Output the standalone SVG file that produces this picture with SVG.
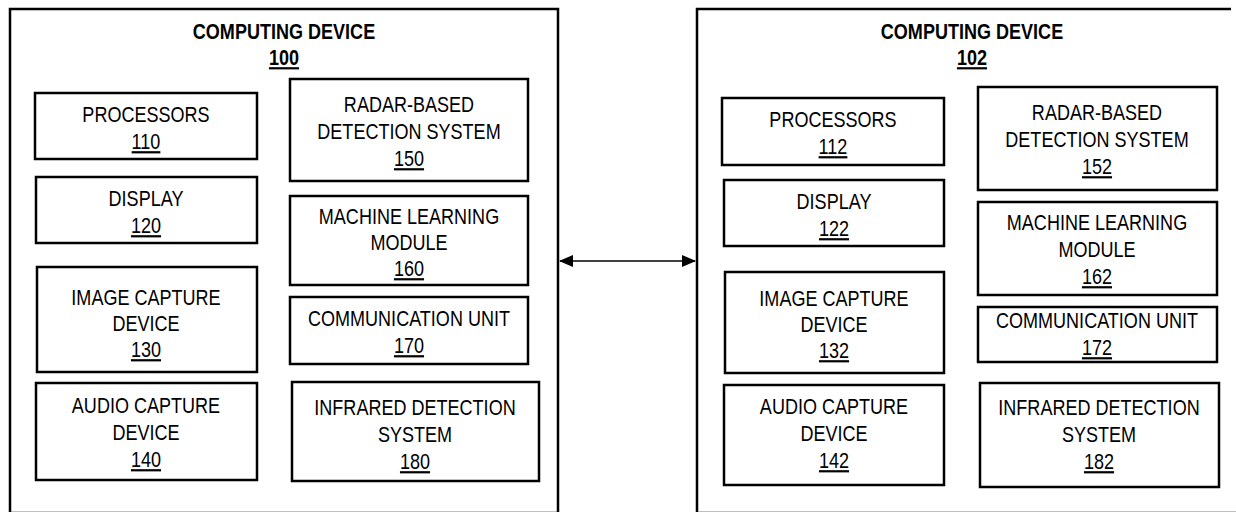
<svg xmlns="http://www.w3.org/2000/svg" width="1236" height="512" viewBox="0 0 1236 512">
  <style>
    .frame { fill: #fff; stroke: #000; stroke-width: 2.5; }
    .box { fill: #fff; stroke: #000; stroke-width: 2.5; }
    .t { font-family: "Liberation Sans", Arial, sans-serif; font-size: 22px; fill: #000; text-anchor: middle; }
    .title { font-weight: bold; }
    .num { text-decoration: underline; }
    .link { stroke: #000; stroke-width: 1.6; fill: none; }
  </style>
  <defs>
    <marker id="ah" viewBox="0 0 14 12" refX="13" refY="6" markerWidth="14" markerHeight="12" markerUnits="userSpaceOnUse" orient="auto-start-reverse">
      <path d="M0,0 L14,6 L0,12 Z" fill="#000"/>
    </marker>
  </defs>
  <rect width="1236" height="512" fill="#fff"/>

  <!-- Labels use a narrow face: each text is squeezed to 82% width about its own x -->

  <!-- Computing device 100 -->
  <g id="device-100">
    <rect class="frame" x="10" y="9" width="548" height="504"/>
    <g transform="matrix(0.82,0,0,1,51.12,0)">
      <text class="t title" x="284" y="39">COMPUTING DEVICE</text>
      <text class="t title num" x="284" y="65">100</text>
    </g>
  </g>
  <g id="processors-110">
    <rect class="box" x="35" y="93" width="222" height="66"/>
    <g transform="matrix(0.82,0,0,1,26.28,0)">
      <text class="t" x="146" y="122">PROCESSORS</text>
      <text class="t num" x="146" y="149">110</text>
    </g>
  </g>
  <g id="display-120">
    <rect class="box" x="36" y="177" width="221" height="66"/>
    <g transform="matrix(0.82,0,0,1,26.28,0)">
      <text class="t" x="146" y="206">DISPLAY</text>
      <text class="t num" x="146" y="233">120</text>
    </g>
  </g>
  <g id="image-capture-130">
    <rect class="box" x="37" y="267" width="220" height="105"/>
    <g transform="matrix(0.82,0,0,1,26.28,0)">
      <text class="t" x="146" y="305">IMAGE CAPTURE</text>
      <text class="t" x="146" y="331">DEVICE</text>
      <text class="t num" x="146" y="357">130</text>
    </g>
  </g>
  <g id="audio-capture-140">
    <rect class="box" x="36" y="383" width="221" height="97"/>
    <g transform="matrix(0.82,0,0,1,26.28,0)">
      <text class="t" x="146" y="413">AUDIO CAPTURE</text>
      <text class="t" x="146" y="440">DEVICE</text>
      <text class="t num" x="146" y="467">140</text>
    </g>
  </g>
  <g id="radar-150">
    <rect class="box" x="290" y="79" width="238" height="102"/>
    <g transform="matrix(0.82,0,0,1,73.62,0)">
      <text class="t" x="409" y="112">RADAR-BASED</text>
      <text class="t" x="409" y="139">DETECTION SYSTEM</text>
      <text class="t num" x="409" y="166">150</text>
    </g>
  </g>
  <g id="ml-160">
    <rect class="box" x="290" y="196" width="238" height="89"/>
    <g transform="matrix(0.82,0,0,1,73.62,0)">
      <text class="t" x="409" y="224">MACHINE LEARNING</text>
      <text class="t" x="409" y="250">MODULE</text>
      <text class="t num" x="409" y="276">160</text>
    </g>
  </g>
  <g id="comm-170">
    <rect class="box" x="290" y="297" width="238" height="67"/>
    <g transform="matrix(0.82,0,0,1,73.62,0)">
      <text class="t" x="409" y="326">COMMUNICATION UNIT</text>
      <text class="t num" x="409" y="353">170</text>
    </g>
  </g>
  <g id="infrared-180">
    <rect class="box" x="292" y="382" width="247" height="99"/>
    <g transform="matrix(0.82,0,0,1,74.7,0)">
      <text class="t" x="415" y="415">INFRARED DETECTION</text>
      <text class="t" x="415" y="442">SYSTEM</text>
      <text class="t num" x="415" y="469">180</text>
    </g>
  </g>

  <!-- Computing device 102 -->
  <g id="device-102">
    <path class="frame" d="M1231,9 H697 V513 H1240"/>
    <g transform="matrix(0.82,0,0,1,174.96,0)">
      <text class="t title" x="972" y="39">COMPUTING DEVICE</text>
      <text class="t title num" x="972" y="65">102</text>
    </g>
  </g>
  <g id="processors-112">
    <rect class="box" x="722" y="98" width="222" height="67"/>
    <g transform="matrix(0.82,0,0,1,149.94,0)">
      <text class="t" x="833" y="127">PROCESSORS</text>
      <text class="t num" x="833" y="154">112</text>
    </g>
  </g>
  <g id="display-122">
    <rect class="box" x="724" y="180" width="220" height="66"/>
    <g transform="matrix(0.82,0,0,1,150.12,0)">
      <text class="t" x="834" y="209">DISPLAY</text>
      <text class="t num" x="834" y="236">122</text>
    </g>
  </g>
  <g id="image-capture-132">
    <rect class="box" x="725" y="272" width="219" height="101"/>
    <g transform="matrix(0.82,0,0,1,150.12,0)">
      <text class="t" x="834" y="306">IMAGE CAPTURE</text>
      <text class="t" x="834" y="332">DEVICE</text>
      <text class="t num" x="834" y="358">132</text>
    </g>
  </g>
  <g id="audio-capture-142">
    <rect class="box" x="724" y="385" width="220" height="100"/>
    <g transform="matrix(0.82,0,0,1,150.12,0)">
      <text class="t" x="834" y="414">AUDIO CAPTURE</text>
      <text class="t" x="834" y="441">DEVICE</text>
      <text class="t num" x="834" y="468">142</text>
    </g>
  </g>
  <g id="radar-152">
    <rect class="box" x="978" y="87" width="239" height="103"/>
    <g transform="matrix(0.82,0,0,1,197.46,0)">
      <text class="t" x="1097" y="120">RADAR-BASED</text>
      <text class="t" x="1097" y="147">DETECTION SYSTEM</text>
      <text class="t num" x="1097" y="174">152</text>
    </g>
  </g>
  <g id="ml-162">
    <rect class="box" x="978" y="202" width="239" height="93"/>
    <g transform="matrix(0.82,0,0,1,197.46,0)">
      <text class="t" x="1097" y="230">MACHINE LEARNING</text>
      <text class="t" x="1097" y="257">MODULE</text>
      <text class="t num" x="1097" y="284">162</text>
    </g>
  </g>
  <g id="comm-172">
    <rect class="box" x="978" y="307" width="239" height="55"/>
    <g transform="matrix(0.82,0,0,1,197.46,0)">
      <text class="t" x="1097" y="328">COMMUNICATION UNIT</text>
      <text class="t num" x="1097" y="355">172</text>
    </g>
  </g>
  <g id="infrared-182">
    <rect class="box" x="980" y="383" width="239" height="104"/>
    <g transform="matrix(0.82,0,0,1,197.82,0)">
      <text class="t" x="1099" y="415">INFRARED DETECTION</text>
      <text class="t" x="1099" y="442">SYSTEM</text>
      <text class="t num" x="1099" y="469">182</text>
    </g>
  </g>

  <!-- link between the two devices -->
  <g id="connectors">
    <line class="link" x1="560" y1="261" x2="695" y2="261" marker-start="url(#ah)" marker-end="url(#ah)"/>
  </g>
</svg>
